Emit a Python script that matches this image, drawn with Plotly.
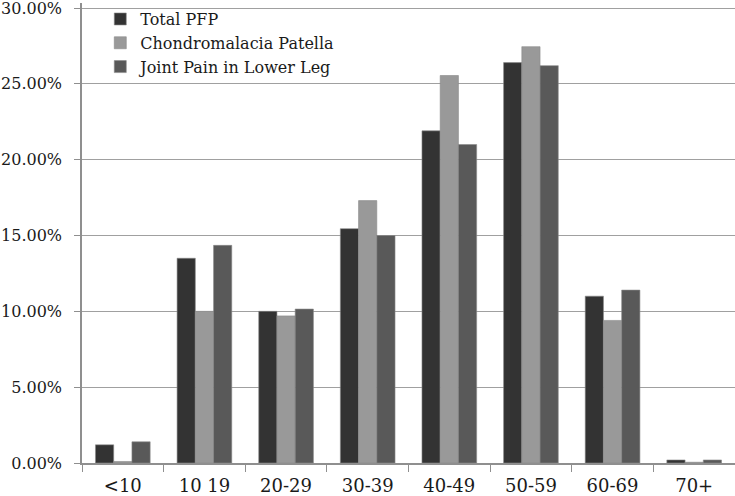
import plotly.graph_objects as go

categories = ["<10", "10 19", "20-29", "30-39", "40-49", "50-59", "60-69", "70+"]
total_pfp = [1.2, 13.5, 10.0, 15.45, 21.9, 26.4, 11.0, 0.2]
chondro = [0.1, 10.0, 9.7, 17.3, 25.55, 27.45, 9.4, 0.05]
joint_pain = [1.4, 14.35, 10.15, 15.0, 21.0, 26.2, 11.4, 0.2]
y_ticks = [0, 5, 10, 15, 20, 25, 30]
y_tick_labels = ["0.00%", "5.00%", "10.00%", "15.00%", "20.00%", "25.00%", "30.00%"]

series = [
    ("Total PFP", total_pfp, "#333333"),
    ("Chondromalacia Patella", chondro, "#999999"),
    ("Joint Pain in Lower Leg", joint_pain, "#595959"),
]

fig = go.Figure()
for name, vals, color in series:
    fig.add_trace(go.Bar(
        x=categories, y=vals, name=name,
        marker=dict(color=color, line=dict(color="#8a8a8a", width=0.6)),
    ))

font_family = "DejaVu Serif"
fig.update_layout(
    width=735, height=496,
    margin=dict(l=82, r=0, t=3, b=33),
    paper_bgcolor="white", plot_bgcolor="white",
    barmode="group", bargap=0.33, bargroupgap=0,
    font=dict(family=font_family, size=16, color="#1a1a1a"),
    showlegend=True,
    legend=dict(x=0.028, y=1.002, xanchor="left", yanchor="top",
                bgcolor="rgba(0,0,0,0)", font=dict(size=16, family=font_family, color="#1a1a1a"),
                tracegroupgap=0, itemwidth=30),
    xaxis=dict(showline=True, linecolor="#8f8f8f", linewidth=1.5,
               ticks="outside", tickson="boundaries", ticklen=7, tickcolor="#8f8f8f",
               ticklabelstandoff=6,
               showgrid=False, tickfont=dict(size=18), automargin=False),
    yaxis=dict(range=[0, 30.33], tickvals=y_ticks, ticktext=y_tick_labels,
               showline=True, linecolor="#8f8f8f", linewidth=1.5,
               showgrid=True, gridcolor="#a0a0a0", gridwidth=1.2,
               ticks="outside", ticklen=6, tickcolor="#8f8f8f",
               ticklabelstandoff=9, ticklabeloverflow="allow",
               zeroline=False, tickfont=dict(size=16), automargin=False),
)

fig.write_html("out.html", post_script="document.body.style.margin='0';",
               config={"displayModeBar": False})
